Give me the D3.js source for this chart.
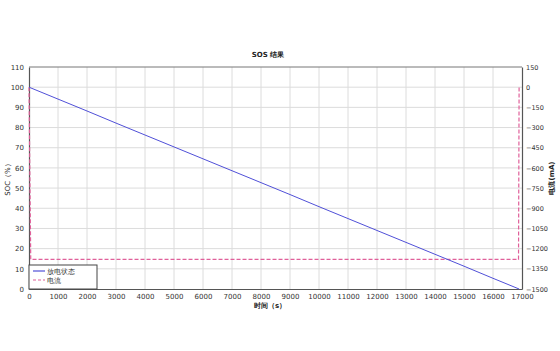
<!DOCTYPE html>
<html><head><meta charset="utf-8">
<script src="https://cdn.jsdelivr.net/npm/d3@7"></script>
<style>body{margin:0;background:#fff}svg{display:block}text{font-family:"DejaVu Sans",sans-serif}</style>
</head><body><svg id="c" width="560" height="351"></svg>
<script>
const title = "SOS 结果";
const xLabel = "时间（s）";
const yLabelLeft = "SOC（%）";
const yLabelRight = "电流(mA)";
const legendNames = ["放电状态", "电流"];
const xTicks = [0,1000,2000,3000,4000,5000,6000,7000,8000,9000,10000,11000,12000,13000,14000,15000,16000,17000];
const yTicksLeft = [0,10,20,30,40,50,60,70,80,90,100,110];
const yTicksRight = [150,0,-150,-300,-450,-600,-750,-900,-1050,-1200,-1350,-1500];
const socTime = [0,1000,2000,3000,4000,5000,6000,7000,8000,9000,10000,11000,12000,13000,14000,15000,16000,16900];
const socValue = [100,94.1,88.2,82.2,76.3,70.4,64.5,58.6,52.7,46.8,40.8,34.9,29.0,23.1,17.2,11.3,5.3,0];
const curTime = [0,60,100,16880,16900];
const curValue = [0,-1280,-1280,-1280,0];

const svg = d3.select("#c");
const L=29,R=522,T=67,B=289;
const x = d3.scaleLinear().domain([0,17000]).range([L,R]);
const yL = d3.scaleLinear().domain([0,110]).range([B,T]);
const yR = d3.scaleLinear().domain([-1500,150]).range([B,T]);

// grid
svg.append("g").selectAll("line").data(xTicks.slice(1,-1)).join("line")
  .attr("x1",d=>x(d)).attr("x2",d=>x(d)).attr("y1",T).attr("y2",B)
  .attr("stroke","#dcdcdc").attr("stroke-width",1);
svg.append("g").selectAll("line").data(yTicksLeft.slice(1,-1)).join("line")
  .attr("x1",L).attr("x2",R).attr("y1",d=>yL(d)).attr("y2",d=>yL(d))
  .attr("stroke","#dcdcdc").attr("stroke-width",1);

// axes
const ax = svg.append("g").attr("transform",`translate(0,${B})`)
  .call(d3.axisBottom(x).tickValues(xTicks).tickFormat(d3.format("d")).tickSize(0).tickPadding(5));
const ayl = svg.append("g").attr("transform",`translate(${L},0)`)
  .call(d3.axisLeft(yL).tickValues(yTicksLeft).tickFormat(d3.format("d")).tickSize(0).tickPadding(5));
const ayr = svg.append("g").attr("transform",`translate(${R},0)`)
  .call(d3.axisRight(yR).tickValues(yTicksRight).tickFormat(d3.format("d")).tickSize(0).tickPadding(4));
[ax,ayl,ayr].forEach(g=>{
  g.select(".domain").attr("stroke","#555").attr("stroke-width",1.2);
  g.selectAll("text").attr("font-size",7).attr("fill","#333");
});
ayr.selectAll("text").attr("font-size",6.5);
// top border
svg.append("line").attr("x1",L).attr("x2",R).attr("y1",T).attr("y2",T).attr("stroke","#777").attr("stroke-width",1);

// series
svg.append("path").datum(curTime.map((t,i)=>[t,curValue[i]]))
  .attr("d",d3.line().x(d=>x(d[0])).y(d=>yR(d[1])))
  .attr("fill","none").attr("stroke","#e0609a").attr("stroke-width",1.2).attr("stroke-dasharray","4,2");
svg.append("path").datum(socTime.map((t,i)=>[t,socValue[i]]))
  .attr("d",d3.line().x(d=>x(d[0])).y(d=>yL(d[1])).curve(d3.curveLinear))
  .attr("fill","none").attr("stroke","#5050d8").attr("stroke-width",1);

// legend
const lg = svg.append("g");
lg.append("rect").attr("x",L).attr("y",265).attr("width",68).attr("height",B-265)
  .attr("fill","#fff").attr("stroke","#444").attr("stroke-width",1);
lg.append("line").attr("x1",33).attr("x2",45).attr("y1",271).attr("y2",271).attr("stroke","#5050d8").attr("stroke-width",1.2);
lg.append("line").attr("x1",33).attr("x2",45).attr("y1",280).attr("y2",280).attr("stroke","#e0609a").attr("stroke-width",1.2).attr("stroke-dasharray","3,2");
lg.append("text").attr("x",47).attr("y",273.5).attr("font-size",6.5).attr("fill","#333").text(legendNames[0]);
lg.append("text").attr("x",47).attr("y",282.5).attr("font-size",6.5).attr("fill","#333").text(legendNames[1]);

// titles
svg.append("text").attr("x",268).attr("y",57).attr("text-anchor","middle").attr("font-size",7).attr("font-weight","bold").attr("fill","#222").text(title);
svg.append("text").attr("x",270).attr("y",308).attr("text-anchor","middle").attr("font-size",7).attr("font-weight","bold").attr("fill","#222").text(xLabel);
svg.append("text").attr("transform","translate(10,178) rotate(-90)").attr("text-anchor","middle").attr("font-size",7).attr("fill","#222").text(yLabelLeft);
svg.append("text").attr("transform","translate(554,178) rotate(-90)").attr("text-anchor","middle").attr("font-size",7).attr("font-weight","bold").attr("fill","#222").text(yLabelRight);
</script></body></html>
